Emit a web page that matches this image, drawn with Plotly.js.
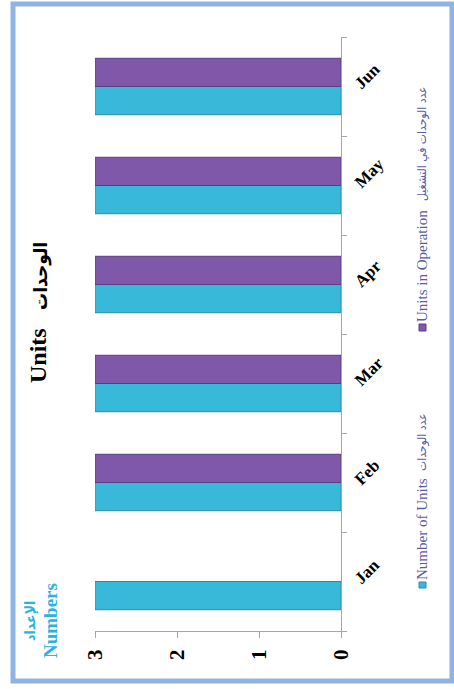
<!DOCTYPE html>
<html>
<head>
<meta charset="utf-8">
<script src="https://cdn.plot.ly/plotly-3.0.1.min.js"></script>
<style>html,body{margin:0;padding:0;background:#fff;}#chart{width:454px;height:689px;}</style>
</head>
<body>
<div id="chart"></div>
<script>
const months = ['Jan', 'Feb', 'Mar', 'Apr', 'May', 'Jun'];
const numberOfUnits = [3, 3, 3, 3, 3, 3];
const unitsInOperation = [null, 3, 3, 3, 3, 3];
const valueTicks = [0, 1, 2, 3];
const seriesNamesEn = ['Number of Units', 'Units in Operation'];
const seriesNamesAr = ['عدد الوحدات', 'عدد الوحدات في التشغيل'];
const titleEn = 'Units', titleAr = 'الوحدات';
const axisTitleEn = 'Numbers', axisTitleAr = 'الإعداد';

const cyan = '#38b9da', cyanEdge = '#2a8ca6';
const purple = '#7f58a9', purpleEdge = '#5a3d80';
const serif = 'Liberation Serif, Times New Roman, serif';
const arabicFont = 'DejaVu Sans Condensed, DejaVu Sans, sans-serif';
const legendColor = '#5b5ba0';

// pixel -> paper helpers (plot area x:95..341, y:37..631)
const px = v => (v - 95) / 246;
const py = v => (631 - v) / 594;

const traces = [
  {type:'bar', orientation:'h', y:months, x:numberOfUnits, name:seriesNamesEn[0],
   marker:{color:cyan, line:{color:cyanEdge, width:1}}},
  {type:'bar', orientation:'h', y:months, x:unitsInOperation, name:seriesNamesEn[1],
   marker:{color:purple, line:{color:purpleEdge, width:1}}}
];

function rot(x, y, text, size, color, bold, family) {
  return {xref:'paper', yref:'paper', x:px(x), y:py(y), text:text, textangle:-90, showarrow:false,
    xanchor:'center', yanchor:'middle',
    font:{family:family || serif, size:size, weight:bold ? 'bold' : 'normal', color:color}};
}

const layout = {
  width:454, height:689,
  margin:{l:95, r:113, t:37, b:58},
  paper_bgcolor:'#fff', plot_bgcolor:'#fff',
  showlegend:false,
  barmode:'group', bargap:0.43, bargroupgap:0,
  xaxis:{range:[3,0], tickvals:valueTicks, ticktext:valueTicks.map(String), tickangle:-90,
    showline:true, linecolor:'#a6a6a6', linewidth:1, ticks:'outside', ticklen:6, tickcolor:'#a6a6a6',
    showgrid:false, zeroline:false, fixedrange:true, ticklabelstandoff:3,
    tickfont:{family:serif, size:21, weight:'bold', color:'#000'}},
  yaxis:{side:'right', tickangle:-45, showline:true, linecolor:'#a6a6a6', linewidth:1,
    ticks:'outside', tickson:'boundaries', ticklen:5, tickcolor:'#a6a6a6',
    showgrid:false, zeroline:false, fixedrange:true, ticklabelstandoff:10,
    tickfont:{family:serif, size:17, weight:'bold', color:'#000'}},
  shapes:[
    {type:'rect', xref:'paper', yref:'paper', x0:px(13), x1:px(452), y0:py(681), y1:py(4),
     line:{color:'#8eb4e3', width:5}, fillcolor:'rgba(0,0,0,0)', layer:'below'},
    {type:'rect', xref:'paper', yref:'paper', x0:px(419), x1:px(426), y0:py(588), y1:py(582),
     line:{color:cyanEdge, width:1}, fillcolor:cyan},
    {type:'rect', xref:'paper', yref:'paper', x0:px(419), x1:px(426), y0:py(331), y1:py(324),
     line:{color:purpleEdge, width:1}, fillcolor:purple}
  ],
  annotations:[
    rot(38, 356, titleEn, 24, '#000', true),
    rot(40, 276, titleAr, 19, '#000', true, arabicFont),
    rot(50, 621, axisTitleEn, 19, '#2bb3e0', true),
    rot(30, 621, axisTitleAr, 14, '#2bb3e0', true, arabicFont),
    rot(422, 529, seriesNamesEn[0], 15, legendColor, false),
    rot(422, 442, seriesNamesAr[0], 12, legendColor, false, arabicFont),
    rot(422, 266, seriesNamesEn[1], 15, legendColor, false),
    rot(422, 144, seriesNamesAr[1], 12, legendColor, false, arabicFont)
  ]
};

Plotly.newPlot('chart', traces, layout, {displayModeBar:false, staticPlot:true});
</script>
</body>
</html>
